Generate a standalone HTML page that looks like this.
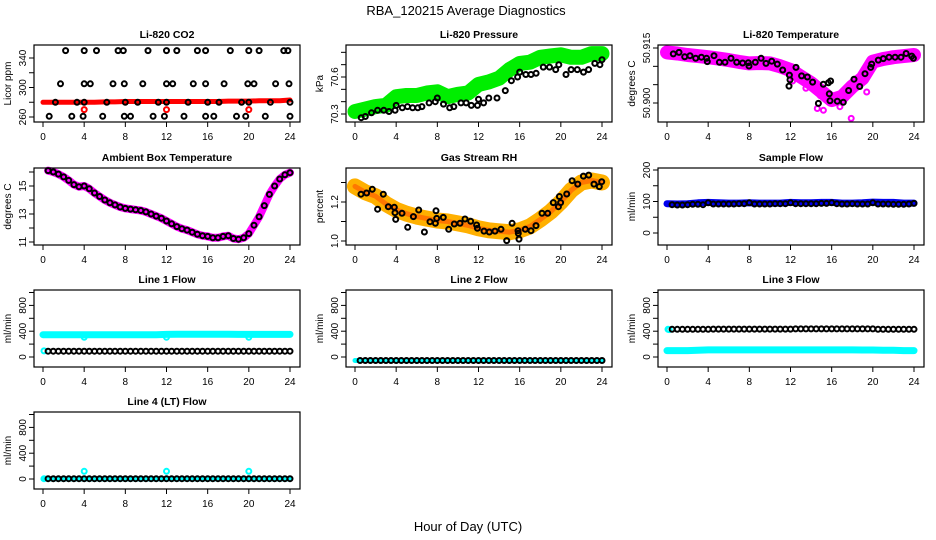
<!DOCTYPE html>
<html><head><meta charset="utf-8"><style>
html,body{margin:0;padding:0;background:#fff}
svg{display:block;font-family:"Liberation Sans",Arial,sans-serif}
</style></head><body>
<svg id="fig" width="936" height="540" viewBox="0 0 936 540" xmlns="http://www.w3.org/2000/svg">
<rect x="0" y="0" width="936" height="540" fill="#fff"/>
<text x="466" y="15" font-size="13" text-anchor="middle">RBA_120215  Average Diagnostics</text>
<text x="468" y="531" font-size="13" text-anchor="middle">Hour of Day (UTC)</text>
</svg>
<script>
// ---- shared ----
const xTicks = [0,4,8,12,16,20,24];
const hourlyHours = [0,1,2,3,4,5,6,7,8,9,10,11,12,13,14,15,16,17,18,19,20,21,22,23,24];
const halfHours = [0.5,1,1.5,2,2.5,3,3.5,4,4.5,5,5.5,6,6.5,7,7.5,8,8.5,9,9.5,10,10.5,11,11.5,12,12.5,13,13.5,14,14.5,15,15.5,16,16.5,17,17.5,18,18.5,19,19.5,20,20.5,21,21.5,22,22.5,23,23.5,24];

// ---- CO2 ----
const co2Band = [280,280,280,280,280,280,280.5,280.5,281,281,281,281,281,281,281,281,281,281,281.5,281.5,281.5,282,282,282,283];
const co2HighHours = [2.2,4,5.2,7.3,7.8,10.2,12,13,15,15.8,18.2,20,21,23.4,23.8];
const co2HighVals = [350,350,350,350,350,350,350,350,350,350,350,350,350,350,350];
const co2MidHours = [1.7,4,4.6,6.8,7.9,9.7,12,12.6,14.6,15.8,17.6,19.9,20.5,22.6,23.9];
const co2MidVals = [305,305,305,305,305,305,305,305,305,305,305,305,305,305,305];
const co2LowHours = [1.2,3.3,4,6.2,8,9.2,11.2,12,14.1,16,17.1,19.3,20,22.1,24];
const co2LowVals = [280,280,280,280,280,280,280,280,280,280,280,280,280,280,280];
const co2BotHours = [0.6,2.8,3.9,5.8,7.9,8.5,10.7,11.8,13.7,15.8,16.6,18.8,19.7,21.6,24];
const co2BotVals = [261,261,261,261,261,261,261,261,261,261,261,261,261,261,261];
const co2RedHours = [4,12,20];
const co2RedVals = [270,270,270];

// ---- Pressure ----
const presBand = [70.32,70.34,70.36,70.37,70.44,70.45,70.45,70.47,70.48,70.44,70.46,70.47,70.54,70.56,70.59,70.66,70.71,70.72,70.76,70.77,70.78,70.76,70.76,70.79,70.79];
const presHours = [0.6,1,1.6,2.2,2.8,3.3,3.9,4,4.6,5.1,5.6,6.1,6.5,7.2,7.8,8,8.6,9.2,9.6,10.3,10.8,11.3,11.9,12,12.5,13,13.8,14.6,15.2,15.8,16,16.6,17.1,17.6,18.3,18.9,19.5,19.8,20.5,21,21.6,22.2,22.7,23.3,23.8,24];
const presVals = [70.27,70.28,70.31,70.33,70.33,70.32,70.33,70.37,70.35,70.36,70.35,70.35,70.36,70.39,70.40,70.43,70.38,70.35,70.36,70.39,70.39,70.37,70.37,70.42,70.39,70.43,70.43,70.49,70.57,70.60,70.64,70.62,70.62,70.63,70.68,70.68,70.66,70.70,70.62,70.66,70.66,70.64,70.66,70.71,70.70,70.74];

// ---- Li-820 Temperature ----
const tempBand = [50.9138,50.9135,50.9131,50.9128,50.9125,50.9121,50.9117,50.9112,50.9108,50.9109,50.9108,50.9100,50.9090,50.9072,50.9054,50.9031,50.9008,50.9017,50.9045,50.9067,50.9113,50.9120,50.9125,50.9128,50.9131];
const tempHours = [0.61,1.17,1.72,2.23,2.79,3.34,3.85,3.92,4.57,5.09,5.64,6.22,6.77,7.35,7.90,7.97,8.58,9.14,9.62,10.17,10.72,11.24,11.89,11.95,11.85,12.53,13.08,13.64,14.15,14.71,15.19,15.68,15.90,15.77,15.84,16.55,17.13,17.65,18.17,18.72,19.24,19.79,19.89,20.53,21.02,21.57,22.16,22.74,23.23,23.78,23.94];
const tempVals = [50.9134,50.9138,50.9126,50.9129,50.9122,50.9125,50.9122,50.9113,50.9129,50.9111,50.9111,50.9122,50.9111,50.9109,50.9110,50.9101,50.9111,50.9122,50.9108,50.9114,50.9106,50.9090,50.9076,50.9063,50.9046,50.9097,50.9074,50.9071,50.9057,50.8999,50.9051,50.9055,50.9060,50.9025,50.9006,50.9005,50.9002,50.9034,50.9065,50.9045,50.9080,50.9097,50.9106,50.9117,50.9121,50.9125,50.9125,50.9125,50.9135,50.9128,50.9122];
const tempOutHours = [14.6,15.2,15.5,16.8,17.9,18.4,13.5,12.2,19.4,14.9];
const tempOutVals = [50.8985,50.8980,50.9010,50.8990,50.8958,50.9050,50.9040,50.9060,50.9030,50.9020];

// ---- Ambient Box Temperature ----
const ambVals = [16.1,16.0,15.85,15.65,15.4,15.1,14.95,15.0,14.8,14.5,14.25,14.0,13.8,13.65,13.5,13.4,13.35,13.3,13.25,13.15,13.0,12.85,12.7,12.5,12.3,12.1,11.95,11.85,11.7,11.55,11.45,11.4,11.3,11.3,11.4,11.45,11.25,11.2,11.3,11.6,12.2,12.8,13.6,14.4,15.0,15.5,15.8,15.95];

// ---- Gas Stream RH ----
const rhBand = [1.28,1.25,1.23,1.19,1.16,1.14,1.125,1.115,1.105,1.10,1.09,1.08,1.065,1.055,1.05,1.045,1.055,1.075,1.11,1.15,1.20,1.26,1.30,1.31,1.30];
const rhHours = [0.58,1.13,1.68,2.20,2.75,3.24,3.82,3.89,3.95,4.57,5.12,5.67,6.19,6.74,7.29,7.81,7.87,7.94,8.58,9.10,9.65,10.20,10.69,11.24,11.82,11.89,12.53,13.05,13.60,14.19,14.74,15.26,15.87,15.84,15.94,16.55,17.10,17.59,18.17,18.72,19.27,19.76,19.86,19.98,20.57,21.09,21.64,22.19,22.71,23.22,23.74,23.97];
const rhVals = [1.240,1.246,1.265,1.163,1.240,1.176,1.173,1.145,1.111,1.142,1.070,1.125,1.159,1.046,1.099,1.091,1.155,1.116,1.121,1.060,1.087,1.091,1.113,1.101,1.082,1.065,1.051,1.046,1.051,1.060,1.002,1.091,1.039,1.053,1.010,1.060,1.053,1.079,1.142,1.142,1.197,1.176,1.228,1.197,1.241,1.309,1.292,1.333,1.338,1.292,1.279,1.304];

// ---- Sample Flow ----
const sampleBand = [93,92,93,96,97,96,95,95,96,95,95,95,97,96,96,97,97,95,95,96,98,97,97,95,95];
const sampleVals = [90,89,89,90,91,91,90,96,92,92,92,92,92,93,93,96,92,92,92,92,93,93,93,96,93,93,93,93,93,94,94,96,93,92,92,93,92,92,92,96,92,92,92,91,91,91,92,94];

// ---- Line flows ----
const line1Band = [345,345,345,345,345,345,345,345,345,345,345,345,350,352,352,352,352,352,352,350,350,350,350,350,350];
const line1Black = [90,90,90,90,90,90,90,90,90,90,90,90,90,90,90,90,90,90,90,90,90,90,90,90,90,90,90,90,90,90,90,90,90,90,90,90,90,90,90,90,90,90,90,90,90,90,90,90];
const line1OutHours = [0.1,4,12,20];
const line1OutVals = [95,305,305,305];
const line2Band = [-55,-55,-55,-55,-55,-55,-55,-55,-55,-55,-55,-55,-55,-55,-55,-55,-55,-55,-55,-55,-55,-55,-55,-55,-55];
const line2Black = [-55,-55,-55,-55,-55,-55,-55,-55,-55,-55,-55,-55,-55,-55,-55,-55,-55,-55,-55,-55,-55,-55,-55,-55,-55,-55,-55,-55,-55,-55,-55,-55,-55,-55,-55,-55,-55,-55,-55,-55,-55,-55,-55,-55,-55,-55,-55,-55];
const line3Band = [100,100,100,105,110,110,110,110,110,110,110,110,110,110,110,110,110,110,110,108,108,105,105,100,100];
const line3Black = [430,430,430,430,430,430,430,430,432,432,432,432,432,432,432,432,432,432,432,432,432,432,432,432,435,435,435,435,435,435,435,435,435,435,435,435,435,435,435,435,430,430,430,430,430,430,430,430];
const line3OutHours = [0.1,0.2];
const line3OutVals = [430,425];
const line4Band = [0,0,0,0,0,0,0,0,0,0,0,0,0,0,0,0,0,0,0,0,0,0,0,0,0];
const line4Black = [5,5,5,5,5,5,5,5,5,5,5,5,5,5,5,5,5,5,5,5,5,5,5,5,5,5,5,5,5,5,5,5,5,5,5,5,5,5,5,5,5,5,5,5,5,5,5,5];
const line4OutHours = [0.1,4,12,20];
const line4OutVals = [5,120,120,120];

const flowTicks = [0,200,400,600,800,1000];
const flowTickLabels = ['0','','400','','800',''];

// ---- rendering ----
const NS = 'http://www.w3.org/2000/svg';
const svg = document.getElementById('fig');
function mk(tag, attrs, parent){ const e=document.createElementNS(NS,tag); for(const k in attrs) e.setAttribute(k,attrs[k]); (parent||svg).appendChild(e); return e; }

const colLeft = [34,346,658];
const rowTop = [45,168,290,412];
const BOXW = 266, BOXH = 77;

function makePanel(col,row,slug,title,ylab,cal,ticks,tickLabels){
  const left=colLeft[col], top=rowTop[row];
  const g = mk('g',{});
  
  
  const xs = h => left+9+h*247/24;
  const ys = v => top+cal[1]+(v-cal[0])*(cal[3]-cal[1])/(cal[2]-cal[0]);
  const t = mk('text',{x:left+BOXW/2,y:top-7,'font-size':10.5,'font-weight':'bold','text-anchor':'middle'},g);
  t.textContent=title;
  
  
  const yl = mk('text',{x:0,y:0,'font-size':10,'text-anchor':'middle',transform:`translate(${left-23},${top+BOXH/2}) rotate(-90)`},g);
  yl.textContent=ylab;
  
  
  const xa = mk('g',{},g);
  
  
  mk('line',{x1:xs(0),x2:xs(24),y1:top+BOXH,y2:top+BOXH,stroke:'#000'},xa);
  xTicks.forEach(v=>{
    mk('line',{x1:xs(v),x2:xs(v),y1:top+BOXH,y2:top+BOXH+5,stroke:'#000'},xa);
    const tl=mk('text',{x:xs(v),y:top+BOXH+18,'font-size':10,'text-anchor':'middle'},xa);
    tl.textContent=String(v);
  });
  const ya = mk('g',{},g);
  
  
  ticks.forEach((v,i)=>{
    const yy=ys(v);
    mk('line',{x1:left-5,x2:left,y1:yy,y2:yy,stroke:'#000'},ya);
    if(tickLabels[i]){
      const tl=mk('text',{x:0,y:0,'font-size':10,'text-anchor':'middle',transform:`translate(${left-8},${yy}) rotate(-90)`},ya);
      tl.textContent=tickLabels[i];
    }
  });
  mk('line',{x1:left,x2:left,y1:ys(ticks[0]),y2:ys(ticks[ticks.length-1]),stroke:'#000'},ya);
  const plot = mk('g',{},g);
  
  
  const box = mk('rect',{x:left,y:top,width:BOXW,height:BOXH,fill:'none',stroke:'#000','stroke-width':1.2},g);
  
  
  return {xs,ys,plot,left,top};
}
function band(p,hours,vals,color,w,name){
  const pts = hours.map((h,i)=>`${p.xs(h).toFixed(1)},${p.ys(vals[i]).toFixed(1)}`).join(' ');
  const pl = mk('polyline',{points:pts,fill:'none',stroke:color,'stroke-width':w,'stroke-linejoin':'round','stroke-linecap':'round'},p.plot);
  
  
}
function dots(p,hours,vals,color,name,r,sw){
  const g = mk('g',{},p.plot);
  
  
  hours.forEach((h,i)=>{
    mk('circle',{cx:p.xs(h).toFixed(1),cy:p.ys(vals[i]).toFixed(1),r:r||2.5,fill:'none',stroke:color,'stroke-width':sw||2},g);
  });
}

// CO2
let p = makePanel(0,0,'co2','Li-820 CO2','Licor ppm',[340,13,260,72],[260,280,300,320,340],['260','','300','','340']);
band(p,hourlyHours,co2Band,'#ff0000',5,'co2-red-band');
dots(p,co2RedHours,co2RedVals,'#ff0000','co2-red-points');
dots(p,co2HighHours,co2HighVals,'#000','co2-points-high');
dots(p,co2MidHours,co2MidVals,'#000','co2-points-mid');
dots(p,co2LowHours,co2LowVals,'#000','co2-points-low');
dots(p,co2BotHours,co2BotVals,'#000','co2-points-bottom');

// Pressure
p = makePanel(1,0,'pressure','Li-820 Pressure','kPa',[70.3,69,70.6,32],[70.3,70.4,70.5,70.6,70.7,70.8],['70.3','','','70.6','','']);
band(p,hourlyHours,presBand,'#00ee00',15,'pressure-green-band');
dots(p,presHours,presVals,'#000','pressure-points');

// Temperature
p = makePanel(2,0,'li820-temp','Li-820 Temperature','degrees C',[50.915,3,50.900,58],[50.900,50.905,50.910,50.915],['50.900','','','50.915']);
band(p,hourlyHours,tempBand,'#ff00ff',14,'temp-magenta-band');
dots(p,tempOutHours,tempOutVals,'#ff00ff','temp-magenta-outliers');
dots(p,tempHours,tempVals,'#000','temp-points');

// Ambient
p = makePanel(0,1,'ambient','Ambient Box Temperature','degrees C',[15,18,11,74],[11,12,13,14,15,16],['11','','13','','15','']);
band(p,halfHours,ambVals,'#ff00ff',8,'ambient-magenta-band');
dots(p,halfHours,ambVals,'#000','ambient-points');

// RH
p = makePanel(1,1,'rh','Gas Stream RH','percent',[1.2,34,1.0,73],[1.0,1.1,1.2,1.3],['1.0','','1.2','']);
band(p,hourlyHours,rhBand,'#ffb000',16,'rh-orange-band');
band(p,hourlyHours,rhBand,'#ff7700',5,'rh-red-speckle-band');
dots(p,rhHours,rhVals,'#000','rh-points');

// Sample flow
p = makePanel(2,1,'sample-flow','Sample Flow','ml/min',[200,2,0,65],[0,50,100,150,200],['0','','100','','200']);
band(p,hourlyHours,sampleBand,'#0000ee',7,'sample-blue-band');
dots(p,halfHours,sampleVals,'#000','sample-points');

// Line 1
p = makePanel(0,2,'line1','Line 1 Flow','ml/min',[0,67,1000,2.5],flowTicks,flowTickLabels);
band(p,hourlyHours,line1Band,'#00ffff',7,'line1-cyan-band');
dots(p,line1OutHours,line1OutVals,'#00ffff','line1-cyan-points');
dots(p,halfHours,line1Black,'#000','line1-points');

// Line 2
p = makePanel(1,2,'line2','Line 2 Flow','ml/min',[0,67,1000,2.5],flowTicks,flowTickLabels);
band(p,hourlyHours,line2Band,'#00ffff',5,'line2-cyan-band');
dots(p,halfHours,line2Black,'#000','line2-points');

// Line 3
p = makePanel(2,2,'line3','Line 3 Flow','ml/min',[0,67,1000,2.5],flowTicks,flowTickLabels);
band(p,hourlyHours,line3Band,'#00ffff',7,'line3-cyan-band');
dots(p,line3OutHours,line3OutVals,'#00ffff','line3-cyan-points');
dots(p,halfHours,line3Black,'#000','line3-points');

// Line 4
p = makePanel(0,3,'line4','Line 4 (LT) Flow','ml/min',[0,67,1000,2.5],flowTicks,flowTickLabels);
band(p,hourlyHours,line4Band,'#00ffff',5,'line4-cyan-band');
dots(p,line4OutHours,line4OutVals,'#00ffff','line4-cyan-points');
dots(p,halfHours,line4Black,'#000','line4-points');
</script>
</body></html>
